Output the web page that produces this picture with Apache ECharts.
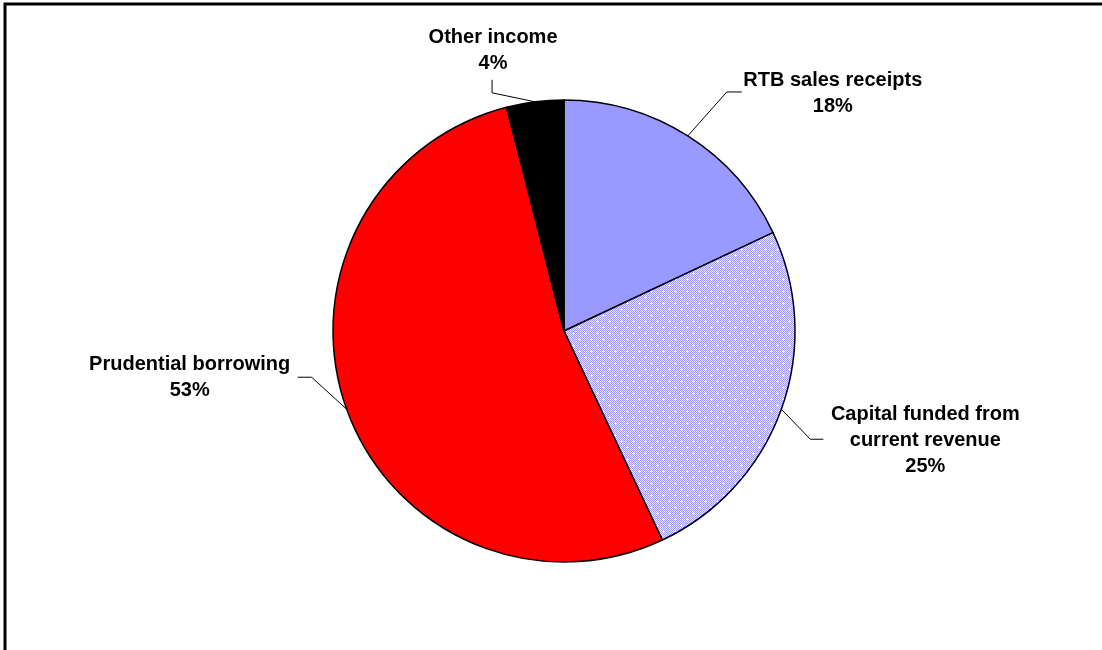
<!DOCTYPE html>
<html>
<head>
<meta charset="utf-8">
<script src="https://cdn.jsdelivr.net/npm/echarts@6/dist/echarts.min.js"></script>
<style>
  html, body { margin: 0; padding: 0; background: #ffffff; }
  #chart { width: 1102px; height: 650px; }
</style>
</head>
<body>
<div id="chart"></div>
<script>
// Funding sources, clockwise from 12 o'clock
const categories = [
  'RTB sales receipts',
  'Capital funded from\ncurrent revenue',
  'Prudential borrowing',
  'Other income'
];
const shares = [18, 25, 53, 4];

// Dotted lavender fill for the revenue-funded slice
function dottedPattern() {
  const c = document.createElement('canvas');
  c.width = 12; c.height = 12;
  const g = c.getContext('2d');
  for (let y = 0; y < 12; y++) {
    for (let x = 0; x < 12; x++) {
      g.fillStyle = ((x + y) % 2 === 0) ? '#9d9dff' : '#e6e6ff';
      g.fillRect(x, y, 1, 1);
    }
  }
  g.fillStyle = '#ffffff';
  [[3, 3], [9, 9]].forEach(([px, py]) => {
    g.fillRect(px - 1, py, 3, 1);
    g.fillRect(px, py - 1, 1, 3);
  });
  return c;
}

const sliceFills = ['#9999ff', { image: dottedPattern(), repeat: 'repeat' }, '#ff0000', '#000000'];

// Leader-line elbow, line end and label centre, relative to the slice's rim point
const leaderOffsets = [
  { elbow: [39, -44], end: [54, -44], text: [145, -42] },
  { elbow: [29, 30], end: [42, 30], text: [144, 31] },
  { elbow: [-35, -32], end: [-49, -32], text: [-157, -32] },
  { elbow: [-43, -9], end: [-43, -22], text: [-42, -51] }
];

const chart = echarts.init(document.getElementById('chart'), null, { renderer: 'canvas' });

chart.setOption({
  backgroundColor: '#ffffff',
  animation: false,
  graphic: [{
    type: 'rect',
    shape: { x: 5, y: 4, width: 1300, height: 900 },
    style: { fill: 'none', stroke: '#000000', lineWidth: 3 },
    silent: true
  }],
  series: [{
    type: 'pie',
    center: [564, 331],
    radius: 231,
    startAngle: 90,
    clockwise: true,
    avoidLabelOverlap: false,
    data: categories.map((name, i) => ({
      name: name,
      value: shares[i],
      itemStyle: { color: sliceFills[i] }
    })),
    itemStyle: { borderColor: '#000000', borderWidth: 1.5 },
    emphasis: { disabled: true },
    label: {
      show: true,
      position: 'outside',
      formatter: p => p.name + '\n' + p.value + '%',
      fontFamily: 'Liberation Sans, Arial, sans-serif',
      fontWeight: 'bold',
      fontSize: 20,
      lineHeight: 26,
      color: '#000000',
      align: 'center'
    },
    labelLine: {
      show: true,
      lineStyle: { color: '#000000', width: 1 }
    },
    labelLayout: function (params) {
      const o = leaderOffsets[params.dataIndex];
      const p0 = params.labelLinePoints[0];
      return {
        x: p0[0] + o.text[0],
        y: p0[1] + o.text[1],
        align: 'center',
        verticalAlign: 'middle',
        labelLinePoints: [
          [p0[0], p0[1]],
          [p0[0] + o.elbow[0], p0[1] + o.elbow[1]],
          [p0[0] + o.end[0], p0[1] + o.end[1]]
        ]
      };
    }
  }]
});
</script>
</body>
</html>
